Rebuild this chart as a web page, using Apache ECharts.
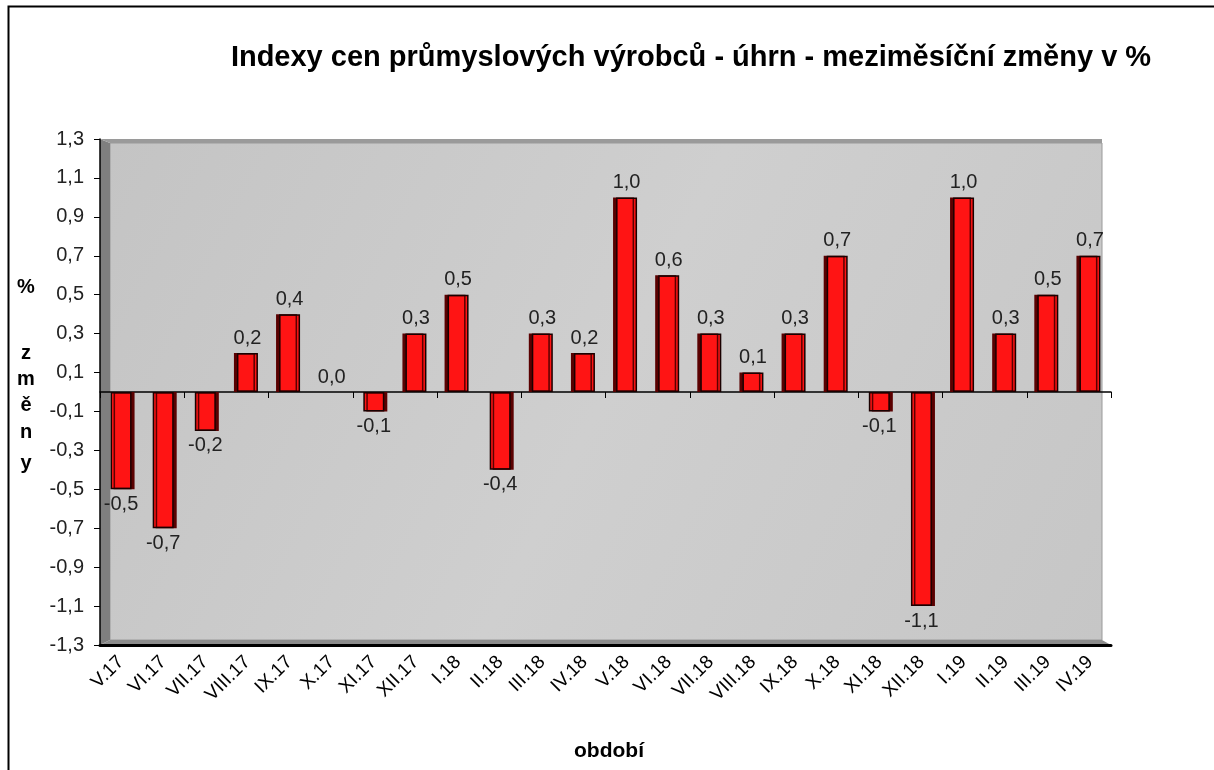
<!DOCTYPE html>
<html><head><meta charset="utf-8">
<script src="https://cdn.jsdelivr.net/npm/echarts@6/dist/echarts.min.js"></script>
<style>html,body{margin:0;padding:0;background:#fff}#c{width:1214px;height:770px}</style>
</head><body><div id="c"></div>
<script>
const categories = ['V.17','VI.17','VII.17','VIII.17','IX.17','X.17','XI.17','XII.17','I.18','II.18','III.18','IV.18','V.18','VI.18','VII.18','VIII.18','IX.18','X.18','XI.18','XII.18','I.19','II.19','III.19','IV.19'];
const values = [-0.5,-0.7,-0.2,0.2,0.4,0.0,-0.1,0.3,0.5,-0.4,0.3,0.2,1.0,0.6,0.3,0.1,0.3,0.7,-0.1,-1.1,1.0,0.3,0.5,0.7];
const yTicks = {min:-1.3, max:1.3, interval:0.2};
const titleText = 'Indexy cen průmyslových výrobců - úhrn - meziměsíční změny v %';
const yName = ['%','z','m','ě','n','y'];
const xName = 'období';

const FONT = 'Liberation Sans, Arial, sans-serif';
const chart = echarts.init(document.getElementById('c'), null, {renderer:'canvas'});
const fmt = v => v.toFixed(1).replace('.', ',');

const yNameY = [287, 353, 379, 405, 432, 463];
const graphics = [
  {type:'rect', shape:{x:8.5,y:6.5,width:1300,height:900}, style:{fill:null, stroke:'#000', lineWidth:2}, z:-10},
  {type:'polygon', shape:{points:[[100,139],[110,143],[110,640],[100,645]]}, style:{fill:'#7f7f7f'}, z:-5},
  {type:'polygon', shape:{points:[[100,645],[110,640],[1102,640],[1111,645]]}, style:{fill:'#8c8c8c'}, z:-5},
  {type:'polygon', shape:{points:[[100,139],[1102,139],[1102,143],[110,143]]}, style:{fill:'#9a9a9a'}, z:-5},
  {type:'rect', shape:{x:110,y:143,width:992,height:497}, style:{
    fill:new echarts.graphic.LinearGradient(0,0,1,1,[{offset:0,color:'#c4c4c4'},{offset:0.5,color:'#cfcfcf'},{offset:1,color:'#c6c6c6'}]),
    stroke:'#9a9a9a', lineWidth:1}, z:-6},
  {type:'text', x:609, y:762, style:{text:xName, font:'bold 21px '+FONT, fill:'#000', textAlign:'center', textVerticalAlign:'bottom'}}
];
yName.forEach((t,i)=>graphics.push({type:'text', style:{text:t, font:'bold 20px '+FONT, fill:'#000', textAlign:'center', textVerticalAlign:'middle'}, x:26, y:yNameY[i]}));

chart.setOption({
  animation:false,
  backgroundColor:'#fff',
  title:{text:titleText, left:686, top:38, textAlign:'center', textStyle:{fontFamily:FONT, fontWeight:'bold', fontSize:29, color:'#000'}},
  graphic:graphics,
  grid:{left:100, right:103, top:139, bottom:125, containLabel:false},
  xAxis:[
    {type:'category', data:categories, position:'bottom',
     axisLine:{onZero:false, lineStyle:{color:'#000', width:3}},
     axisTick:{show:false},
     axisLabel:{rotate:45, interval:0, margin:14, fontFamily:FONT, fontSize:19, color:'#000'},
     splitLine:{show:false}},
    {type:'category', data:categories, position:'top',
     axisLine:{onZero:true, lineStyle:{color:'#000', width:1.5}},
     axisTick:{show:true, inside:true, length:6, lineStyle:{color:'#000'}},
     axisLabel:{show:false}, splitLine:{show:false}}
  ],
  yAxis:{type:'value', min:yTicks.min, max:yTicks.max, interval:yTicks.interval,
    axisLine:{show:true, lineStyle:{color:'#000', width:1.5}},
    axisTick:{show:true, length:6, lineStyle:{color:'#000'}},
    axisLabel:{formatter:v=>fmt(v), fontFamily:FONT, fontSize:20, color:'#222', margin:16},
    splitLine:{show:false}},
  series:[{
    type:'bar', xAxisIndex:0, barWidth:21,
    data:values.map(v=>({value:v,
      itemStyle: v===0 ? {borderWidth:0, shadowOffsetX:0, color:'transparent'} :
        {shadowOffsetX: v<0 ? 3 : -3},
      label:{position: v<0?'bottom':'top'}})),
    itemStyle:{color:'#ff1414', borderColor:'#1a0000', borderWidth:1.5, shadowColor:'#5a0000', shadowOffsetY:0},
    label:{show:true, formatter:p=>fmt(p.value), fontFamily:FONT, fontSize:20, color:'#222', distance:5}
  }]
});
</script></body></html>
